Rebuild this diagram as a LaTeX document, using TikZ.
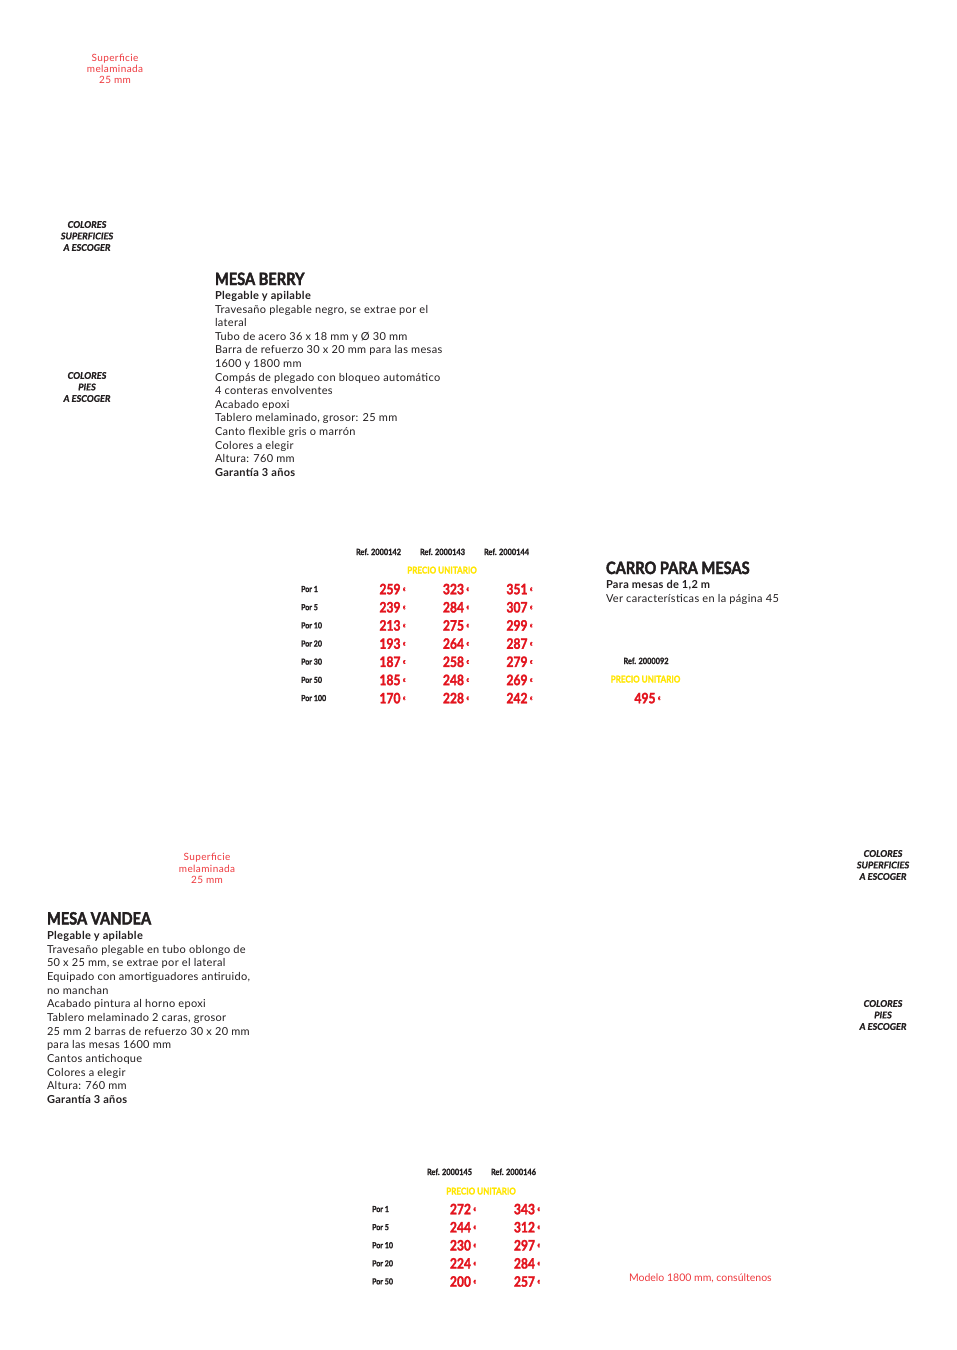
\documentclass[tikz,border=0pt]{standalone}
\usepackage{fontspec}
\setmainfont{Lato}
\definecolor{ink}{HTML}{231F20}
\definecolor{pricered}{HTML}{E3141E}
\definecolor{notered}{HTML}{EE3A3F}
\definecolor{yellowc}{HTML}{FFE600}
\newcommand\bodyfnt{\fontsize{11}{12}\selectfont\addfontfeatures{LetterSpace=3}}
\newcommand\condsmall{\bfseries\addfontfeatures{FakeStretch=0.86,FakeBold=1.3}}
\newcommand\condbig{\bfseries\addfontfeatures{FakeStretch=0.84,FakeBold=1.8}}
\tikzset{
  every node/.style={inner sep=0pt,outer sep=0pt},
  body/.style={anchor=base west,font=\bodyfnt,text=ink},
  bodyb/.style={anchor=base west,font=\bfseries\bodyfnt,text=ink},
  titletext/.style={anchor=base west,font=\bfseries\fontsize{17}{18}\selectfont\addfontfeatures{FakeStretch=0.86,FakeBold=2.2},text=ink},
  notetext/.style={align=center,font=\fontsize{10}{11.3}\selectfont\addfontfeatures{LetterSpace=4},text=notered},
  choosetext/.style={align=center,font=\bfseries\itshape\fontsize{9.2}{11.5}\selectfont\addfontfeatures{FakeBold=1},text=ink},
  reftext/.style={anchor=base,font=\fontsize{8.6}{9}\selectfont\condsmall,text=ink},
  unittext/.style={anchor=base,font=\fontsize{9.4}{10}\selectfont\condsmall,text=yellowc},
  portext/.style={anchor=base west,font=\fontsize{8.3}{9}\selectfont\condsmall,text=ink},
  pricetext/.style={anchor=base east,font=\fontsize{14.4}{16}\selectfont\condbig,text=pricered},
  eurotext/.style={anchor=west,font=\fontsize{5}{6}\selectfont\condsmall,text=pricered},
  redline/.style={anchor=base west,font=\fontsize{10.5}{12}\selectfont,text=notered}
}
\begin{document}
\begin{tikzpicture}[x=1pt,y=-1pt]
\fill[white] (0,0) rectangle (957,1350);
\useasboundingbox (0,0) rectangle (957,1350);

% side labels, top
\node[notetext] (note1) at (115,69) {Superficie\\melaminada\\25 mm};
\node[choosetext] (sup1) at (87,236) {COLORES\\SUPERFICIES\\A ESCOGER};
\node[choosetext] (pies1) at (87,387) {COLORES\\PIES\\A ESCOGER};

% MESA BERRY
\node[titletext] (berry) at (215,285) {MESA BERRY};
\node[bodyb] (berry0) at (215,299.5) {Plegable y apilable};
\foreach \t [count=\i] in {{Travesaño plegable negro, se extrae por el},{lateral},
  {Tubo de acero 36 x 18 mm y Ø 30 mm},{Barra de refuerzo 30 x 20 mm para las mesas},
  {1600 y 1800 mm},{Compás de plegado con bloqueo automático},{4 conteras envolventes},
  {Acabado epoxi},{Tablero melaminado, grosor: 25 mm},{Canto flexible gris o marrón},
  {Colores a elegir},{Altura: 760 mm}}
  \node[body] (berry\i) at (215,299.5+\i*13.6) {\t};
\node[bodyb] (berryg) at (215,476.3) {Garantía 3 años};

% Table 1
\node[reftext] (r142) at (378.5,555) {Ref. 2000142};
\node[reftext] (r143) at (442.5,555) {Ref. 2000143};
\node[reftext] (r144) at (506.5,555) {Ref. 2000144};
\node[unittext] (pu1) at (442,573.5) {PRECIO UNITARIO};
\foreach \lab/\a/\b/\c [count=\i] in {1/259/323/351,5/239/284/307,10/213/275/299,
  20/193/264/287,30/187/258/279,50/185/248/269,100/170/228/242}{
  \pgfmathsetmacro\yb{594.3+(\i-1)*18.17}
  \node[portext] (ta\i) at (301,\yb-2.3) {Por \lab};
  \node[pricetext] (ta\i a) at (400.5,\yb) {\a};
  \node[eurotext] (ta\i ae) at (403,\yb-5) {€};
  \node[pricetext] (ta\i b) at (464,\yb) {\b};
  \node[eurotext] (ta\i be) at (466.5,\yb-5) {€};
  \node[pricetext] (ta\i c) at (527.5,\yb) {\c};
  \node[eurotext] (ta\i ce) at (530,\yb-5) {€};
}

% CARRO PARA MESAS
\node[titletext] (carro) at (606,574) {CARRO PARA MESAS};
\node[bodyb] (carro1) at (606,588.5) {Para mesas de 1,2 m};
\node[body] (carro2) at (606,602.5) {Ver características en la página 45};
\node[reftext] (r092) at (646,664) {Ref. 2000092};
\node[unittext] (pu3) at (645.5,682.5) {PRECIO UNITARIO};
\node[pricetext] (p495) at (655.5,703.3) {495};
\node[eurotext] (p495e) at (658,698.3) {€};

% side labels, bottom
\node[notetext] (note2) at (207,868.5) {Superficie\\melaminada\\25 mm};
\node[choosetext] (sup2) at (883,865) {COLORES\\SUPERFICIES\\A ESCOGER};
\node[choosetext] (pies2) at (883,1015) {COLORES\\PIES\\A ESCOGER};

% MESA VANDEA
\node[titletext] (vandea) at (47,924.5) {MESA VANDEA};
\node[bodyb] (vandea0) at (47,939.5) {Plegable y apilable};
\foreach \t [count=\i] in {{Travesaño plegable en tubo oblongo de},{50 x 25 mm, se extrae por el lateral},
  {Equipado con amortiguadores antiruido,},{no manchan},{Acabado pintura al horno epoxi},
  {Tablero melaminado 2 caras, grosor},{25 mm 2 barras de refuerzo 30 x 20 mm},
  {para las mesas 1600 mm},{Cantos antichoque},{Colores a elegir},{Altura: 760 mm}}
  \node[body] (vandea\i) at (47,939.5+\i*13.67) {\t};
\node[bodyb] (vandeag) at (47,1103.5) {Garantía 3 años};

% Table 2
\node[reftext] (r145) at (449.5,1175) {Ref. 2000145};
\node[reftext] (r146) at (513.5,1175) {Ref. 2000146};
\node[unittext] (pu2) at (481,1194.5) {PRECIO UNITARIO};
\foreach \lab/\a/\b [count=\i] in {1/272/343,5/244/312,10/230/297,20/224/284,50/200/257}{
  \pgfmathsetmacro\yb{1214.3+(\i-1)*18.1}
  \node[portext] (tb\i) at (372,\yb-2.3) {Por \lab};
  \node[pricetext] (tb\i a) at (471,\yb) {\a};
  \node[eurotext] (tb\i ae) at (473.5,\yb-5) {€};
  \node[pricetext] (tb\i b) at (535,\yb) {\b};
  \node[eurotext] (tb\i be) at (537.5,\yb-5) {€};
}

\node[redline] (modelo) at (629,1281.5) {Modelo 1800 mm, consúltenos};
\end{tikzpicture}
\end{document}
